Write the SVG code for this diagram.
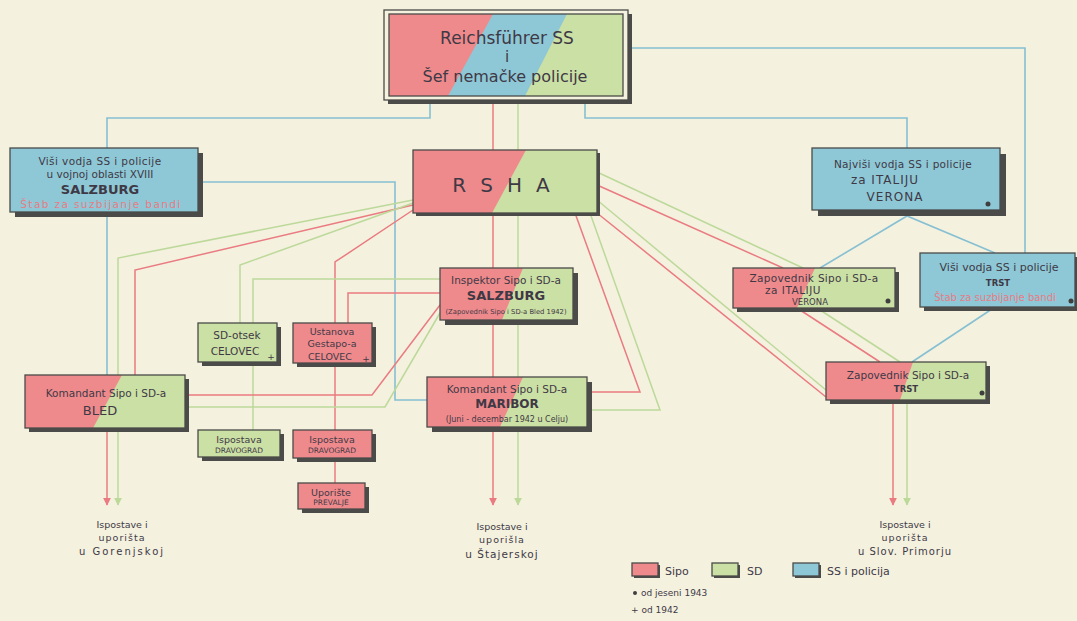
<svg xmlns="http://www.w3.org/2000/svg" width="1077" height="621" viewBox="0 0 1077 621">
<defs>
<style>
.bg{fill:#f4f1df}
.r{fill:#ef8a8c}.g{fill:#cbe0a4}.b{fill:#8ec8d6}
.sh{fill:#4b4b49}
.ol{fill:none;stroke:#4b4b49;stroke-width:1.3}
.lr{fill:none;stroke:#ea7b80;stroke-width:1.5}
.lg{fill:none;stroke:#bcd99a;stroke-width:1.5}
.lb{fill:none;stroke:#86c0d2;stroke-width:1.6}
text{font-family:"DejaVu Sans","Liberation Sans",sans-serif;fill:#3f3946;text-anchor:middle}
.t{font-size:10.5px}
.s{font-size:7.5px}
.big{font-size:13px;font-weight:bold}
.red{fill:#e77c86}
.dot{fill:#3f3f3f}
</style>
<marker id="ar" viewBox="0 0 10 10" refX="9" refY="5" markerWidth="8" markerHeight="9" orient="auto" markerUnits="userSpaceOnUse"><path d="M0,0 L10,5 L0,10 z" fill="#ea7b80"/></marker>
<marker id="ag" viewBox="0 0 10 10" refX="9" refY="5" markerWidth="8" markerHeight="9" orient="auto" markerUnits="userSpaceOnUse"><path d="M0,0 L10,5 L0,10 z" fill="#bcd99a"/></marker>
</defs>
<rect class="bg" x="0" y="0" width="1077" height="621"/>

<g id="connectors">
<polyline class="lb" points="430,96 430,118 107,118 107,148"/>
<polyline class="lb" points="585,96 585,118 907,118 907,148"/>
<polyline class="lb" points="628,48 1025,48 1025,253"/>
<polyline class="lb" points="107,212 107,375"/>
<polyline class="lb" points="198,182 395,182 395,400 427,400"/>
<polyline class="lb" points="820,268 907,216 995,253"/>
<polyline class="lb" points="995,307 912,362"/>

<polyline class="lr" points="493,96 493,150"/>
<polyline class="lg" points="518,96 518,150"/>
<polyline class="lr" points="493,213 493,268"/>
<polyline class="lg" points="518,213 518,268"/>
<polyline class="lr" points="493,320 493,377"/>
<polyline class="lg" points="518,320 518,377"/>
<line class="lr" x1="493" y1="427" x2="493" y2="505" marker-end="url(#ar)"/>
<line class="lg" x1="518" y1="427" x2="518" y2="505" marker-end="url(#ag)"/>

<polyline class="lr" points="413,205 135,270 135,375"/>
<polyline class="lg" points="413,200 118,258 118,375"/>
<polyline class="lg" points="413,203 240,265 240,323"/>
<polyline class="lr" points="413,210 335,262 335,323"/>
<polyline class="lr" points="335,363 335,430"/>
<polyline class="lr" points="335,458 335,483"/>
<polyline class="lr" points="440,293 348,293 348,323"/>
<polyline class="lg" points="440,279 253,279 253,430"/>
<polyline class="lr" points="185,395 372,395 440,305"/>
<polyline class="lg" points="185,407 385,407 440,313"/>

<polyline class="lr" points="587,392 640,392 575,213"/>
<polyline class="lg" points="587,410 660,410 590,213"/>
<polyline class="lr" points="597,213 826,397"/>
<polyline class="lg" points="597,200 826,390"/>
<polyline class="lr" points="597,185 783,268"/>
<polyline class="lg" points="597,172 803,268"/>
<polyline class="lr" points="797,308 880,362"/>
<polyline class="lg" points="817,308 900,362"/>

<line class="lr" x1="893" y1="400" x2="893" y2="505" marker-end="url(#ar)"/>
<line class="lg" x1="907" y1="400" x2="907" y2="505" marker-end="url(#ag)"/>
<line class="lr" x1="107" y1="428" x2="107" y2="505" marker-end="url(#ar)"/>
<line class="lg" x1="118" y1="428" x2="118" y2="505" marker-end="url(#ag)"/>
</g>

<g id="reichsfuehrer">
<rect class="sh" x="388" y="14" width="244" height="90"/>
<rect x="384" y="10" width="244" height="90" fill="#f4f1df" stroke="#4b4b49" stroke-width="1.3"/>
<rect class="g" x="389" y="14" width="234" height="82"/>
<polygon class="b" points="389,14 567,14 525,96 389,96"/>
<polygon class="r" points="389,14 493,14 448,96 389,96"/>
<rect class="ol" x="389" y="14" width="234" height="82" stroke-width="2"/>
<text x="507" y="44" style="font-size:17px">Reichsführer SS</text>
<text x="507" y="62" style="font-size:15px">i</text>
<text x="505" y="82" style="font-size:16px">Šef nemačke policije</text>
</g>

<g id="rsha">
<rect class="sh" x="416" y="153" width="184" height="63"/>
<rect class="g" x="413" y="150" width="184" height="63"/>
<polygon class="r" points="413,150 526,150 492,213 413,213"/>
<rect class="ol" x="413" y="150" width="184" height="63"/>
<text x="508" y="192" style="font-size:20px;letter-spacing:14px">RSHA</text>
</g>

<g id="visi-salzburg">
<rect class="sh" x="15" y="153" width="188" height="64"/>
<rect class="b" x="10" y="148" width="188" height="64"/>
<rect class="ol" x="10" y="148" width="188" height="64"/>
<text class="t" x="100" y="165" style="letter-spacing:0.4px">Viši vodja SS i policije</text>
<text class="t" x="100" y="178">u vojnoj oblasti XVIII</text>
<text class="big" x="100" y="194">SALZBURG</text>
<text class="t red" x="101" y="208" style="letter-spacing:1.4px">Štab za suzbijanje bandi</text>
</g>

<g id="najvisi-verona">
<rect class="sh" x="818" y="154" width="188" height="62"/>
<rect class="b" x="812" y="148" width="188" height="62"/>
<rect class="ol" x="812" y="148" width="188" height="62"/>
<text class="t" x="903" y="168" style="letter-spacing:0.3px">Najviši vodja SS i policije</text>
<text class="t" x="885" y="184" style="font-size:12px;letter-spacing:1px">za  ITALIJU</text>
<text class="t" x="895" y="201" style="font-size:12px;letter-spacing:1px">VERONA</text>
<circle class="dot" cx="988" cy="204" r="2.5"/>
</g>

<g id="inspektor-salzburg">
<rect class="sh" x="445" y="273" width="133" height="52"/>
<rect class="g" x="440" y="268" width="133" height="52"/>
<polygon class="r" points="440,268 523,268 502,320 440,320"/>
<rect class="ol" x="440" y="268" width="133" height="52"/>
<text class="t" x="506" y="284">Inspektor Sipo i SD-a</text>
<text class="big" x="506" y="300">SALZBURG</text>
<text class="s" x="506" y="314" style="font-size:6.8px">(Zapovednik Sipo i SD-a Bled 1942)</text>
</g>

<g id="komandant-maribor">
<rect class="sh" x="432" y="382" width="160" height="50"/>
<rect class="g" x="427" y="377" width="160" height="50"/>
<polygon class="r" points="427,377 523,377 500,427 427,427"/>
<rect class="ol" x="427" y="377" width="160" height="50"/>
<text class="t" x="507" y="393">Komandant Sipo i SD-a</text>
<text class="t" x="507" y="408" style="font-size:12px;font-weight:bold">MARIBOR</text>
<text class="s" x="507" y="422" style="font-size:8px">(Juni - decembar 1942 u Celju)</text>
</g>

<g id="komandant-bled">
<rect class="sh" x="29" y="379" width="160" height="53"/>
<rect class="g" x="25" y="375" width="160" height="53"/>
<polygon class="r" points="25,375 122,375 93,428 25,428"/>
<rect class="ol" x="25" y="375" width="160" height="53"/>
<text class="t" x="106" y="397">Komandant Sipo i SD-a</text>
<text class="big" x="100" y="415" style="font-weight:normal">BLED</text>
</g>

<g id="sd-otsek-celovec">
<rect class="sh" x="202" y="327" width="79" height="39"/>
<rect class="g" x="198" y="323" width="79" height="39"/>
<rect class="ol" x="198" y="323" width="79" height="39"/>
<text class="t" x="237" y="339">SD-otsek</text>
<text class="t" x="235" y="355">CELOVEC</text>
<text class="s" x="271" y="360" style="font-size:9px">+</text>
</g>

<g id="gestapo-celovec">
<rect class="sh" x="297" y="327" width="79" height="40"/>
<rect class="r" x="293" y="323" width="79" height="40"/>
<rect class="ol" x="293" y="323" width="79" height="40"/>
<text class="t" x="332" y="335" style="font-size:9.5px">Ustanova</text>
<text class="t" x="332" y="347" style="font-size:9.5px">Gestapo-a</text>
<text class="t" x="330" y="360" style="font-size:9.5px">CELOVEC</text>
<text class="s" x="366" y="362" style="font-size:9px">+</text>
</g>

<g id="ispostava-dravograd-sd">
<rect class="sh" x="202" y="434" width="82" height="27"/>
<rect class="g" x="198" y="430" width="82" height="27"/>
<rect class="ol" x="198" y="430" width="82" height="27"/>
<text class="t" x="239" y="443" style="font-size:9.5px">Ispostava</text>
<text class="s" x="239" y="453">DRAVOGRAD</text>
</g>

<g id="ispostava-dravograd-sipo">
<rect class="sh" x="297" y="434" width="79" height="28"/>
<rect class="r" x="293" y="430" width="79" height="28"/>
<rect class="ol" x="293" y="430" width="79" height="28"/>
<text class="t" x="332" y="443" style="font-size:9.5px">Ispostava</text>
<text class="s" x="332" y="453">DRAVOGRAD</text>
</g>

<g id="uporiste-prevalje">
<rect class="sh" x="302" y="487" width="67" height="26"/>
<rect class="r" x="298" y="483" width="67" height="26"/>
<rect class="ol" x="298" y="483" width="67" height="26"/>
<text class="t" x="331" y="496" style="font-size:9.5px">Uporište</text>
<text class="s" x="331" y="505">PREVALJE</text>
</g>

<g id="zapovednik-verona">
<rect class="sh" x="737" y="272" width="162" height="40"/>
<rect class="g" x="733" y="268" width="162" height="40"/>
<polygon class="r" points="733,268 815,268 797,308 733,308"/>
<rect class="ol" x="733" y="268" width="162" height="40"/>
<text class="t" x="814" y="282" style="letter-spacing:0.3px">Zapovednik Sipo i  SD-a</text>
<text class="t" x="793" y="294" style="letter-spacing:0.5px">za  ITALIJU</text>
<text class="s" x="810" y="305" style="font-size:8.5px">VERONA</text>
<circle class="dot" cx="888" cy="301" r="2.5"/>
</g>

<g id="visi-trst">
<rect class="sh" x="924" y="257" width="155" height="54"/>
<rect class="b" x="920" y="253" width="155" height="54"/>
<rect class="ol" x="920" y="253" width="155" height="54"/>
<text class="t" x="999" y="271" style="font-size:11px">Viši vodja SS i policije</text>
<text class="s" x="998" y="286" style="font-size:8.5px;font-weight:bold">TRST</text>
<text class="t red" x="995" y="301" style="font-size:10px">Štab za suzbijanje bandi</text>
<circle class="dot" cx="1071" cy="301" r="2.5"/>
</g>

<g id="zapovednik-trst">
<rect class="sh" x="830" y="366" width="160" height="38"/>
<rect class="g" x="826" y="362" width="160" height="38"/>
<polygon class="r" points="826,362 913,362 900,400 826,400"/>
<rect class="ol" x="826" y="362" width="160" height="38"/>
<text class="t" x="908" y="379">Zapovednik Sipo i SD-a</text>
<text class="s" x="906" y="392" style="font-size:8.5px;font-weight:bold">TRST</text>
<circle class="dot" cx="982" cy="393" r="2.5"/>
</g>

<g id="bottom-labels">
<text class="t" x="122" y="528" style="font-size:9.5px">Ispostave i</text>
<text class="t" x="122" y="541" style="font-size:9.5px;letter-spacing:1px">uporišta</text>
<text class="t" x="122" y="555" style="font-size:10px;letter-spacing:2px">u Gorenjskoj</text>
<text class="t" x="502" y="530" style="font-size:9.5px">Ispostave i</text>
<text class="t" x="502" y="543" style="font-size:9.5px;letter-spacing:1px">uporišla</text>
<text class="t" x="502" y="558" style="font-size:10.5px;letter-spacing:1px">u Štajerskoj</text>
<text class="t" x="905" y="528" style="font-size:9.5px">Ispostave i</text>
<text class="t" x="905" y="541" style="font-size:9.5px;letter-spacing:1px">uporišta</text>
<text class="t" x="905" y="555" style="font-size:10px;letter-spacing:1px">u Slov. Primorju</text>
</g>

<g id="legend">
<rect class="sh" x="634" y="565" width="26" height="13"/>
<rect class="r" x="632" y="563" width="26" height="13"/>
<rect class="ol" x="632" y="563" width="26" height="13"/>
<text class="t" x="665" y="575" style="text-anchor:start;font-size:11px">Sipo</text>
<rect class="sh" x="714" y="565" width="26" height="13"/>
<rect class="g" x="712" y="563" width="26" height="13"/>
<rect class="ol" x="712" y="563" width="26" height="13"/>
<text class="t" x="747" y="575" style="text-anchor:start;font-size:11px">SD</text>
<rect class="sh" x="795" y="565" width="26" height="13"/>
<rect class="b" x="793" y="563" width="26" height="13"/>
<rect class="ol" x="793" y="563" width="26" height="13"/>
<text class="t" x="827" y="575" style="text-anchor:start;font-size:11px">SS i policija</text>
<circle class="dot" cx="635" cy="593" r="2"/>
<text class="t" x="641" y="596" style="text-anchor:start;font-size:9px">od jeseni 1943</text>
<text class="t" x="631" y="613" style="text-anchor:start;font-size:9px">+ od 1942</text>
</g>
</svg>
